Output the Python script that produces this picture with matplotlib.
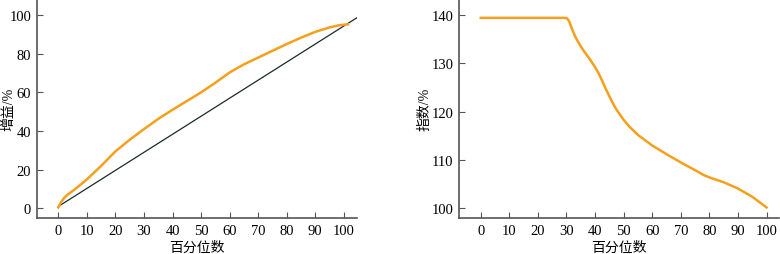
import matplotlib.pyplot as plt

# 左图：增益曲线
gain_x = [0, 0.5, 1, 2, 3, 5, 7, 10, 15, 20, 25, 30, 35, 40, 45, 50, 55, 60, 65, 70, 75, 80, 85, 90, 95, 98, 100, 101.5]
gain_y = [0.5, 2, 3.3, 5.3, 6.8, 9, 11.3, 15, 22, 29.5, 35.5, 41, 46.3, 51, 55.5, 60, 65, 70.3, 74.5, 78, 81.5, 85,
          88.3, 91.3, 93.6, 94.6, 95, 95.2]
diag_x = [0, 105]
diag_y = [1, 99]

# 右图：指数曲线
idx_x = [0, 10, 20, 29, 30, 30.5, 31, 31.5, 32, 33, 34, 35, 36, 37, 38, 39, 40, 41, 42, 43, 44, 45, 46, 47, 48,
         50, 52, 55, 60, 65, 70, 75, 78, 80, 85, 90, 95, 100]
idx_y = [139.4, 139.4, 139.4, 139.4, 139.35, 139.1, 138.6, 137.8, 137, 135.6, 134.5, 133.5, 132.6, 131.8, 131.0,
         130.1, 129.2, 128.2, 127.0, 125.7, 124.4, 123.2, 122.0, 120.9, 120.0, 118.3, 116.9, 115.2, 113, 111.2,
         109.5, 107.9, 106.9, 106.4, 105.4, 104.1, 102.4, 100.2]

xticks = [0, 10, 20, 30, 40, 50, 60, 70, 80, 90, 100]

fonts = ['Liberation Serif', 'Noto Sans CJK SC']
plt.rcParams['font.family'] = fonts
orange = '#f5a01c'
spine = '#555555'

fig = plt.figure(figsize=(7.8, 2.55), dpi=100)


def style(ax, lx):
    for s in ['top', 'right']:
        ax.spines[s].set_visible(False)
    for s in ['left', 'bottom']:
        ax.spines[s].set_color(spine)
        ax.spines[s].set_linewidth(1.2)
    ax.tick_params(direction='in', length=4, color=spine, labelsize=10.5, pad=4)
    ax.set_xticks(xticks)
    ax.set_xlabel('百分位数', fontsize=10)
    ax.xaxis.set_label_coords(0.5, -0.105)
    ax.yaxis.set_label_coords(lx, 0.5)


ax1 = fig.add_axes([0.047, 0.141, 0.411, 0.859])
ax1.plot(diag_x, diag_y, color='#1a2a2a', lw=0.9)
ax1.plot(gain_x, gain_y, color=orange, lw=1.8)
ax1.set_xlim(-7.6, 104.7)
ax1.set_ylim(-5, 108.3)
ax1.set_yticks([0, 20, 40, 60, 80, 100])
ax1.set_ylabel('增益/%', fontsize=10)
style(ax1, -0.067)

ax2 = fig.add_axes([0.5885, 0.141, 0.410, 0.859])
ax2.plot(idx_x, idx_y, color=orange, lw=1.8)
ax2.set_xlim(-7.6, 104.3)
ax2.set_ylim(98.0, 143.3)
ax2.set_yticks([100, 110, 120, 130, 140])
ax2.set_ylabel('指数/%', fontsize=10)
style(ax2, -0.086)

fig.savefig('out.png', dpi=100)
